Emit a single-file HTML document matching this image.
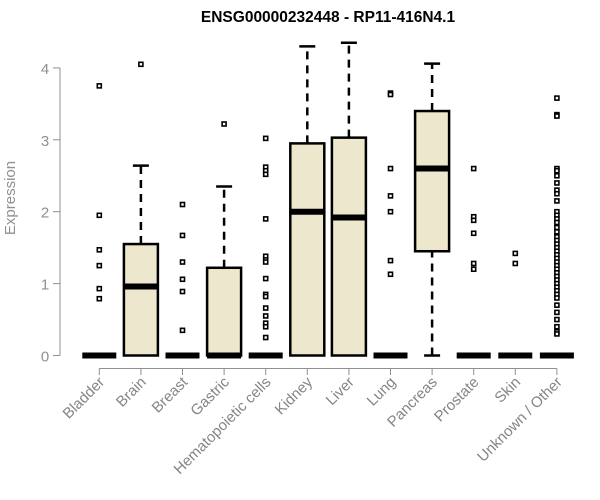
<!DOCTYPE html>
<html><head><meta charset="utf-8"><style>
body{margin:0;background:#fff;font-family:"Liberation Sans",Arial,sans-serif}
svg{display:block}
</style></head><body>
<svg id="chart" width="600" height="500" viewBox="0 0 600 500" xmlns="http://www.w3.org/2000/svg">
<text x="328" y="22" text-anchor="middle" font-size="15.5" font-weight="bold" fill="#000">ENSG00000232448 - RP11-416N4.1</text>
<text transform="translate(15,198) rotate(-90)" text-anchor="middle" font-size="15" fill="#909090">Expression</text>
<g id="axes"></g>
<g id="boxes"></g>
</svg>
<script>
const categories=["Bladder","Brain","Breast","Gastric","Hematopoietic cells","Kidney","Liver","Lung","Pancreas","Prostate","Skin","Unknown / Other"];
const lowWhisker=[0,0,0,0,0,0,0,0,0,0,0,0];
const q1=[0,0,0,0,0,0,0,0,1.45,0,0,0];
const median=[0,0.96,0,0,0,2.0,1.92,0,2.6,0,0,0];
const q3=[0,1.55,0,1.22,0,2.95,3.03,0,3.4,0,0,0];
const highWhisker=[0,2.64,0,2.35,0,4.3,4.35,0,4.06,0,0,0];
const outliers=[
[3.75,1.95,1.47,1.25,0.93,0.79],
[4.05],
[2.1,1.67,1.3,1.06,0.89,0.35],
[3.22],
[3.02,2.62,2.57,2.52,1.9,1.38,1.33,1.3,1.07,0.85,0.82,0.66,0.55,0.45,0.4,0.25],
[],[],
[3.65,3.63,2.6,2.22,2.0,1.32,1.13],
[],
[2.6,1.93,1.88,1.7,1.28,1.2],
[1.42,1.28],
[3.58,3.35,3.33,2.6,2.57,2.5,2.4,2.3,2.25,2.15,2.0,1.95,1.9,1.85,1.78,1.72,1.65,1.6,1.55,1.5,1.45,1.4,1.35,1.3,1.25,1.2,1.15,1.1,1.05,1.0,0.95,0.9,0.85,0.8,0.7,0.6,0.5,0.4,0.33,0.3]
];
const yTicks=[0,1,2,3,4];
const NS="http://www.w3.org/2000/svg";
function y(v){return 355.5-71.9*v;}
function x(i){return 99.3+i*41.6;}
function mk(tag,attrs,parent){const e=document.createElementNS(NS,tag);for(const k in attrs)e.setAttribute(k,attrs[k]);parent.appendChild(e);return e;}
const ax=document.getElementById('axes');
const bx=document.getElementById('boxes');
let yl=mk('line',{x1:60,x2:60,y1:y(4),y2:y(0),stroke:'#909090','stroke-width':1},ax);


yTicks.forEach(t=>{
 let l=mk('line',{x1:53,x2:60,y1:y(t),y2:y(t),stroke:'#909090'},ax);
 
 
 let tx=mk('text',{x:45,y:y(t)+6,'text-anchor':'middle','font-size':15,fill:'#909090'},ax);
 tx.textContent=t;
 
 
});
let xl=mk('line',{x1:x(0),x2:x(categories.length-1),y1:368.5,y2:368.5,stroke:'#909090'},ax);


const hw=17;
categories.forEach((c,i)=>{
 const cx=x(i);
 let t=mk('line',{x1:cx,x2:cx,y1:368.5,y2:375,stroke:'#909090'},ax);
 
 
 let lb=mk('text',{transform:`translate(${cx+6},${383}) rotate(-45)`,'text-anchor':'end','font-size':15,fill:'#858585'},ax);
 lb.textContent=c;
 
 
 const g=mk('g',{},bx);
 
 
 if(highWhisker[i]>q3[i]){
  mk('line',{x1:cx,x2:cx,y1:y(q3[i]),y2:y(highWhisker[i]),stroke:'#000','stroke-width':2.5,'stroke-dasharray':'8,6'},g);
  mk('line',{x1:cx-8,x2:cx+8,y1:y(highWhisker[i]),y2:y(highWhisker[i]),stroke:'#000','stroke-width':2.5},g);
 }
 if(q1[i]>lowWhisker[i]){
  mk('line',{x1:cx,x2:cx,y1:y(lowWhisker[i]),y2:y(q1[i]),stroke:'#000','stroke-width':2.5,'stroke-dasharray':'8,6'},g);
  mk('line',{x1:cx-8,x2:cx+8,y1:y(lowWhisker[i]),y2:y(lowWhisker[i]),stroke:'#000','stroke-width':2.5},g);
 }
 if(q3[i]>q1[i]){
  mk('rect',{x:cx-hw,y:y(q3[i]),width:hw*2,height:y(q1[i])-y(q3[i]),fill:'#ede7cd',stroke:'#000','stroke-width':2.5},g);
 }
 mk('line',{x1:cx-hw,x2:cx+hw,y1:y(median[i]),y2:y(median[i]),stroke:'#000','stroke-width':6},g);
 outliers[i].forEach(v=>{
  let p=mk('rect',{x:cx-2,y:y(v)-2,width:4,height:4,fill:'#fff',stroke:'#000','stroke-width':1.6},g);
  
  
 });
});
</script>
</body></html>
